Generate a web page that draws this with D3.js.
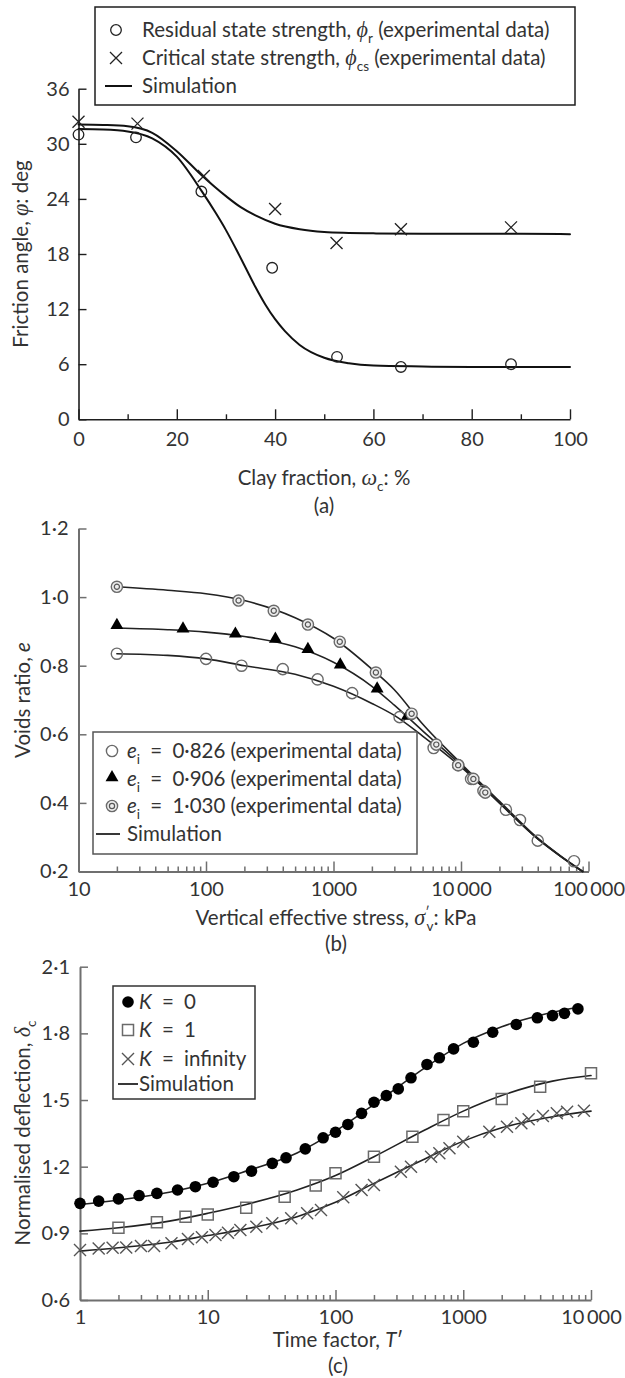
<!DOCTYPE html>
<html>
<head>
<meta charset="utf-8">
<script src="https://cdn.jsdelivr.net/npm/d3@7"></script>
<style>
  body { margin: 0; background: #fff; }
  svg { display: block; font-family: Lato, "Open Sans", sans-serif; }
</style>
</head>
<body>
<svg id="fig" width="625" height="1378"></svg>
<script>
// ---------- (a) friction angle against clay fraction ----------
const clayResidual = [0, 11.7, 25, 39.4, 52.6, 65.6, 88];
const phiResidual = [31.0, 30.7, 24.8, 16.5, 6.8, 5.7, 6.0];
const clayCritical = [0, 12, 25.5, 40, 52.5, 65.6, 88];
const phiCritical = [32.4, 32.2, 26.5, 22.9, 19.2, 20.7, 20.9];
const simClayResidual = [0, 5, 10, 15, 20, 25, 28, 30, 32, 34, 36, 38, 40, 42, 45, 50, 55, 60, 70, 80, 90, 100];
const simPhiResidual = [31.6, 31.55, 31.35, 30.6, 28.6, 24.9, 22.4, 20.6, 18.6, 16.5, 14.4, 12.5, 10.9, 9.6, 8.1, 6.7, 6.1, 5.85, 5.75, 5.7, 5.7, 5.7];
const simClayCritical = [0, 5, 10, 15, 20, 25, 30, 33, 36, 40, 45, 50, 55, 60, 70, 80, 90, 100];
const simPhiCritical = [32.1, 32.05, 31.9, 31.2, 29.2, 26.6, 24.3, 23.1, 22.2, 21.3, 20.7, 20.4, 20.3, 20.25, 20.2, 20.2, 20.2, 20.15];
const clayTicks = [0, 20, 40, 60, 80, 100];
const clayMinorTicks = [10, 30, 50, 70, 90];
const phiTicks = [0, 6, 12, 18, 24, 30, 36];

// ---------- (b) voids ratio against vertical effective stress ----------
const stress826 = [20, 100, 190, 400, 750, 1400, 3300, 6100, 9500, 12000, 15000, 22500, 29000, 40000, 77000];
const voids826 = [0.835, 0.82, 0.80, 0.79, 0.76, 0.72, 0.65, 0.56, 0.51, 0.47, 0.435, 0.38, 0.35, 0.29, 0.23];
const stress906 = [20, 66, 170, 350, 630, 1130, 2200, 3800];
const voids906 = [0.915, 0.905, 0.89, 0.875, 0.845, 0.80, 0.73, 0.65];
const stress1030 = [20, 180, 340, 630, 1120, 2150, 4100, 6400, 9500, 12500, 15500];
const voids1030 = [1.03, 0.99, 0.96, 0.92, 0.87, 0.78, 0.66, 0.57, 0.51, 0.47, 0.43];
const simStress = [20, 50, 100, 200, 500, 1000, 2000, 3000, 5000, 10000, 20000, 40000, 60000, 90000];
const simVoids826 = [0.835, 0.83, 0.82, 0.80, 0.775, 0.74, 0.69, 0.655, 0.595, 0.505, 0.40, 0.295, 0.245, 0.20];
const simVoids906 = [0.91, 0.905, 0.898, 0.885, 0.855, 0.81, 0.74, 0.685, 0.61, 0.51, 0.40, 0.295, 0.245, 0.20];
const simVoids1030 = [1.03, 1.02, 1.01, 0.99, 0.94, 0.88, 0.79, 0.73, 0.63, 0.515, 0.405, 0.297, 0.246, 0.20];
const stressTicks = [10, 100, 1000, 10000, 100000];
const voidsTicks = [0.2, 0.4, 0.6, 0.8, 1.0, 1.2];
const voidsLegend = ["0\u00B7826", "0\u00B7906", "1\u00B7030"];

// ---------- (c) normalised deflection against time factor ----------
const timeK0 = [1, 1.4, 2, 2.9, 4, 5.8, 8, 11, 16, 22, 32, 41, 58, 80, 100, 125, 160, 200, 250, 310, 390, 520, 650, 840, 1200, 1700, 2600, 3800, 5000, 6200, 7900];
const deflK0 = [1.035, 1.045, 1.055, 1.07, 1.08, 1.095, 1.11, 1.13, 1.155, 1.18, 1.215, 1.24, 1.28, 1.33, 1.355, 1.39, 1.44, 1.49, 1.52, 1.55, 1.60, 1.66, 1.69, 1.73, 1.76, 1.805, 1.84, 1.87, 1.88, 1.89, 1.91];
const timeK1 = [2, 4, 6.7, 10, 20, 40, 70, 100, 200, 400, 700, 1000, 2000, 4000, 10000];
const deflK1 = [0.925, 0.95, 0.975, 0.985, 1.015, 1.065, 1.115, 1.17, 1.245, 1.335, 1.41, 1.45, 1.505, 1.56, 1.62];
const timeKinf = [1, 1.4, 1.8, 2.3, 3, 3.8, 5.2, 7, 9, 11.5, 14.4, 18, 24, 32, 45, 60, 77, 115, 160, 200, 325, 390, 560, 650, 780, 1000, 1600, 2200, 2850, 3250, 4200, 5400, 6500, 8800];
const deflKinf = [0.825, 0.832, 0.835, 0.836, 0.843, 0.843, 0.855, 0.875, 0.882, 0.893, 0.903, 0.915, 0.93, 0.945, 0.968, 0.99, 1.005, 1.062, 1.095, 1.118, 1.177, 1.2, 1.245, 1.26, 1.283, 1.312, 1.357, 1.38, 1.395, 1.413, 1.428, 1.44, 1.447, 1.452];
const simTimeK0 = [1, 2, 5, 10, 20, 50, 100, 200, 500, 1000, 2000, 5000, 8200];
const simDeflK0 = [1.03, 1.05, 1.085, 1.125, 1.18, 1.262, 1.36, 1.48, 1.645, 1.755, 1.83, 1.895, 1.92];
const simTime = [1, 2, 5, 10, 20, 50, 100, 200, 500, 1000, 2000, 5000, 10000];
const simDeflK1 = [0.91, 0.925, 0.955, 0.99, 1.03, 1.095, 1.16, 1.245, 1.365, 1.45, 1.52, 1.585, 1.61];
const simDeflKinf = [0.82, 0.835, 0.86, 0.89, 0.92, 0.975, 1.04, 1.125, 1.235, 1.315, 1.375, 1.425, 1.45];
const timeTicks = [1, 10, 100, 1000, 10000];
const deflTicks = [0.6, 0.9, 1.2, 1.5, 1.8, 2.1];
const kLegend = ["0", "1", "infinity"];

// ---------- shared helpers ----------
const svg = d3.select("#fig");
const TEXT = "#333";
const FS = 20.5;      // titles and legends
const TICK_FS = 20;   // tick labels
const GREEK = "'Liberation Serif', 'DejaVu Serif', serif";
const EQ = "\u2002=\u2002";

svg.append("rect").attr("width", 625).attr("height", 1378).attr("fill", "#fff");

// text made of plain, italic, Greek, sub- and superscript pieces
function rich(parent, x, y, segs, size, anchor) {
  const t = parent.append("text")
    .attr("x", x).attr("y", y)
    .attr("font-size", size).attr("fill", TEXT)
    .attr("text-anchor", anchor || "start");
  let shift = 0;
  segs.forEach(s => {
    if (typeof s === "string") s = { t: s };
    const ts = t.append("tspan").text(s.t);
    const target = s.sub ? size * 0.3 : (s.sup ? -size * 0.38 : 0);
    if (target !== shift) { ts.attr("dy", target - shift); shift = target; }
    if (s.dx) ts.attr("dx", s.dx);
    if (s.sub || s.sup) ts.attr("font-size", size * 0.66);
    if (s.it) ts.attr("font-style", "italic");
    if (s.gr) ts.attr("font-family", GREEK).attr("font-style", "italic").attr("font-size", size * 1.08);
  });
  return t;
}

function decimalDot(d) { return d3.format(".1f")(d).replace(".", "\u00B7"); }
function spacedThousands(d) { return d >= 10000 ? d3.format(",")(d).replace(/,/g, "\u2009") : String(d); }

function logMinors(lo, hi) {
  const out = [];
  for (let dec = lo; dec < hi; dec *= 10) for (let k = 2; k <= 9; k++) out.push(dec * k);
  return out;
}

function bottomAxis(g, scale, y0, major, minor, fmt, st) {
  if (minor.length) {
    g.append("g").attr("transform", `translate(0,${y0})`)
      .call(d3.axisBottom(scale).tickValues(minor).tickSize(-st.minor).tickFormat(""))
      .call(a => a.select(".domain").remove())
      .call(a => a.selectAll("line").attr("stroke", st.color).attr("stroke-width", st.tw));
  }
  g.append("g").attr("transform", `translate(0,${y0})`)
    .call(d3.axisBottom(scale).tickValues(major).tickSize(-st.major).tickSizeOuter(0).tickPadding(st.pad).tickFormat(fmt))
    .call(a => a.attr("font-family", null).attr("font-size", TICK_FS))
    .call(a => a.select(".domain").attr("stroke", st.color).attr("stroke-width", st.w))
    .call(a => a.selectAll("line").attr("stroke", st.color).attr("stroke-width", st.tw))
    .call(a => a.selectAll("text").attr("fill", TEXT));
}

function leftAxis(g, scale, x0, major, fmt, st) {
  g.append("g").attr("transform", `translate(${x0},0)`)
    .call(d3.axisLeft(scale).tickValues(major).tickSize(-st.ytick).tickSizeOuter(0).tickPadding(st.ypad).tickFormat(fmt))
    .call(a => a.attr("font-family", null).attr("font-size", TICK_FS))
    .call(a => a.select(".domain").attr("stroke", st.color).attr("stroke-width", st.w))
    .call(a => a.selectAll("line").attr("stroke", st.color).attr("stroke-width", st.tw))
    .call(a => a.selectAll("text").attr("fill", TEXT));
}

function yTitle(g, x, y, segs) {
  const t = rich(g, 0, 0, segs, FS, "middle");
  t.attr("transform", `translate(${x},${y}) rotate(-90)`);
}

const crossPath = s => `M${-s},${-s}L${s},${s}M${-s},${s}L${s},${-s}`;
const squarePath = s => `M${-s},${-s}H${s}V${s}H${-s}Z`;

function simLine(g, xs, ys, sx, sy, width, color) {
  const pts = xs.map((v, i) => [sx(v), sy(ys[i])]);
  g.append("path")
    .attr("d", d3.line().curve(d3.curveMonotoneX)(pts))
    .attr("fill", "none").attr("stroke", color).attr("stroke-width", width)
    .attr("stroke-linejoin", "round").attr("stroke-linecap", "round");
}

function zipPts(xs, ys) { return xs.map((v, i) => ({ x: v, y: ys[i] })); }

// ================= (a) =================
{
  const g = svg.append("g");
  const x = d3.scaleLinear([0, 100], [78.5, 570]);
  const y = d3.scaleLinear([0, 36], [419.3, 88.7]);
  const st = { color: "#1e1e1e", w: 1.6, tw: 1.4, major: 10, minor: 5, pad: 13, ytick: 8, ypad: 9 };

  bottomAxis(g, x, y(0), clayTicks, clayMinorTicks, d => d, st);
  leftAxis(g, y, x(0), phiTicks, d => d, st);

  simLine(g, simClayCritical, simPhiCritical, x, y, 2, "#111");
  simLine(g, simClayResidual, simPhiResidual, x, y, 2, "#111");

  g.selectAll(".res").data(zipPts(clayResidual, phiResidual)).join("circle")
    .attr("cx", d => x(d.x)).attr("cy", d => y(d.y)).attr("r", 5.3)
    .attr("fill", "none").attr("stroke", "#222").attr("stroke-width", 1.3);
  g.selectAll(".cs").data(zipPts(clayCritical, phiCritical)).join("path")
    .attr("transform", d => `translate(${x(d.x)},${y(d.y)})`)
    .attr("d", crossPath(6)).attr("fill", "none").attr("stroke", "#222").attr("stroke-width", 1.3);

  rich(g, 324, 485, ["Clay fraction, ", { t: "\u03C9", gr: 1 }, { t: "c", sub: 1 }, ": %"], FS, "middle");
  rich(g, 324, 513, ["(a)"], FS, "middle");
  yTitle(g, 28, 254, ["Friction angle, ", { t: "\u03C6", gr: 1 }, ": deg"]);

  // legend
  const L = g.append("g");
  L.append("rect").attr("x", 95).attr("y", 7).attr("width", 480).attr("height", 98)
    .attr("fill", "#fff").attr("stroke", "#1e1e1e").attr("stroke-width", 1.5);
  L.append("circle").attr("cx", 116).attr("cy", 30).attr("r", 5.3)
    .attr("fill", "none").attr("stroke", "#222").attr("stroke-width", 1.3);
  L.append("path").attr("transform", "translate(116,58)").attr("d", crossPath(6))
    .attr("stroke", "#222").attr("stroke-width", 1.3);
  L.append("line").attr("x1", 105).attr("x2", 132).attr("y1", 86).attr("y2", 86)
    .attr("stroke", "#111").attr("stroke-width", 2);
  rich(L, 142, 37, ["Residual state strength, ", { t: "\u03D5", gr: 1 }, { t: "r", sub: 1 }, " (experimental data)"], FS);
  rich(L, 142, 65, ["Critical state strength, ", { t: "\u03D5", gr: 1 }, { t: "cs", sub: 1 }, " (experimental data)"], FS);
  rich(L, 142, 93, ["Simulation"], FS);
}

// ================= (b) =================
{
  const g = svg.append("g");
  const x = d3.scaleLog([10, 100000], [78.5, 588.5]);
  const y = d3.scaleLinear([0.2, 1.2], [871.5, 528.5]);
  const st = { color: "#6f6f6f", w: 2, tw: 1.5, major: 10, minor: 5, pad: 10, ytick: 8, ypad: 10 };

  bottomAxis(g, x, y(0.2), stressTicks, logMinors(10, 100000), spacedThousands, st);
  leftAxis(g, y, x(10), voidsTicks, decimalDot, st);

  simLine(g, simStress, simVoids826, x, y, 1.6, "#222");
  simLine(g, simStress, simVoids906, x, y, 1.6, "#222");
  simLine(g, simStress, simVoids1030, x, y, 1.6, "#222");

  const ring = (sel, r) => sel.attr("r", r).attr("fill", "none").attr("stroke", "#6a6a6a").attr("stroke-width", 1.4);

  g.selectAll(".e826").data(zipPts(stress826, voids826)).join("circle")
    .attr("cx", d => x(d.x)).attr("cy", d => y(d.y)).call(ring, 5.6);

  const tri = d3.symbol(d3.symbolTriangle, 72)();
  g.selectAll(".e906").data(zipPts(stress906, voids906)).join("path")
    .attr("transform", d => `translate(${x(d.x)},${y(d.y) - 1})`)
    .attr("d", tri).attr("fill", "#000");

  const dbl = g.selectAll(".e1030").data(zipPts(stress1030, voids1030)).join("g")
    .attr("transform", d => `translate(${x(d.x)},${y(d.y)})`);
  dbl.append("circle").attr("r", 5.6).attr("fill", "#ececec").attr("stroke", "#6a6a6a").attr("stroke-width", 1.4);
  dbl.append("circle").attr("r", 2.6).attr("fill", "none").attr("stroke", "#555").attr("stroke-width", 1.2);

  rich(g, 336, 925, ["Vertical effective stress, ", { t: "\u03C3", gr: 1 }, { t: "\u2032", sup: 1 }, { t: "v", sub: 1, dx: -3 }, ": kPa"], FS, "middle");
  rich(g, 336, 951, ["(b)"], FS, "middle");
  yTitle(g, 30, 700, ["Voids ratio, ", { t: "e", it: 1 }]);

  const L = g.append("g");
  L.append("rect").attr("x", 93).attr("y", 732).attr("width", 324).attr("height", 122)
    .attr("fill", "#fff").attr("stroke", "#555").attr("stroke-width", 1.5);
  const rows = [751, 778.5, 806, 834];
  L.append("circle").attr("cx", 112).attr("cy", rows[0]).call(ring, 5.6);
  L.append("path").attr("transform", `translate(112,${rows[1] - 1})`).attr("d", tri).attr("fill", "#000");
  L.append("circle").attr("cx", 112).attr("cy", rows[2]).attr("r", 5.6).attr("fill", "#ececec").attr("stroke", "#6a6a6a").attr("stroke-width", 1.4);
  L.append("circle").attr("cx", 112).attr("cy", rows[2]).attr("r", 2.6).attr("fill", "none").attr("stroke", "#555").attr("stroke-width", 1.2);
  L.append("line").attr("x1", 96).attr("x2", 120).attr("y1", rows[3]).attr("y2", rows[3])
    .attr("stroke", "#222").attr("stroke-width", 1.8);
  voidsLegend.forEach((v, i) => rich(L, 127, rows[i] + 7, [{ t: "e", it: 1 }, { t: "i", sub: 1 }, `${EQ}${v} (experimental data)`], FS));
  rich(L, 127, rows[3] + 7, ["Simulation"], FS);
}

// ================= (c) =================
{
  const g = svg.append("g");
  const x = d3.scaleLog([1, 10000], [80, 591]);
  const y = d3.scaleLinear([0.6, 2.1], [1300, 966.7]);
  const st = { color: "#6f6f6f", w: 2, tw: 1.5, major: 10, minor: 5, pad: 9.5, ytick: 8, ypad: 10 };

  bottomAxis(g, x, y(0.6), timeTicks, logMinors(1, 10000), spacedThousands, st);
  leftAxis(g, y, x(1), deflTicks, decimalDot, st);

  simLine(g, simTimeK0, simDeflK0, x, y, 1.6, "#222");
  simLine(g, simTime, simDeflK1, x, y, 1.6, "#222");
  simLine(g, simTime, simDeflKinf, x, y, 1.6, "#222");

  g.selectAll(".k0").data(zipPts(timeK0, deflK0)).join("circle")
    .attr("cx", d => x(d.x)).attr("cy", d => y(d.y)).attr("r", 5.8).attr("fill", "#000");

  g.selectAll(".k1").data(zipPts(timeK1, deflK1)).join("path")
    .attr("transform", d => `translate(${x(d.x)},${y(d.y)})`)
    .attr("d", squarePath(5.5)).attr("fill", "none").attr("stroke", "#6a6a6a").attr("stroke-width", 1.5);

  g.selectAll(".kinf").data(zipPts(timeKinf, deflKinf)).join("path")
    .attr("transform", d => `translate(${x(d.x)},${y(d.y)})`)
    .attr("d", crossPath(6)).attr("fill", "none").attr("stroke", "#555").attr("stroke-width", 1.4);

  rich(g, 338, 1347, ["Time factor, ", { t: "T", it: 1 }, "\u2032"], FS, "middle");
  rich(g, 338, 1373, ["(c)"], FS, "middle");
  yTitle(g, 30, 1133, ["Normalised deflection, ", { t: "\u03B4", gr: 1 }, { t: "c", sub: 1 }]);

  const L = g.append("g");
  L.append("rect").attr("x", 113).attr("y", 986).attr("width", 142).attr("height", 113)
    .attr("fill", "#fff").attr("stroke", "#333").attr("stroke-width", 1.5);
  const rows = [1002, 1030, 1059, 1084];
  L.append("circle").attr("cx", 128).attr("cy", rows[0]).attr("r", 5.8).attr("fill", "#000");
  L.append("path").attr("transform", `translate(128,${rows[1]})`).attr("d", squarePath(5.5))
    .attr("fill", "none").attr("stroke", "#6a6a6a").attr("stroke-width", 1.5);
  L.append("path").attr("transform", `translate(128,${rows[2]})`).attr("d", crossPath(6))
    .attr("stroke", "#555").attr("stroke-width", 1.4);
  L.append("line").attr("x1", 118).attr("x2", 138).attr("y1", rows[3]).attr("y2", rows[3])
    .attr("stroke", "#222").attr("stroke-width", 1.8);
  kLegend.forEach((v, i) => rich(L, 139, rows[i] + 7, [{ t: "K", it: 1 }, `${EQ}${v}`], FS));
  rich(L, 139, rows[3] + 7, ["Simulation"], FS);
}
</script>
</body>
</html>
